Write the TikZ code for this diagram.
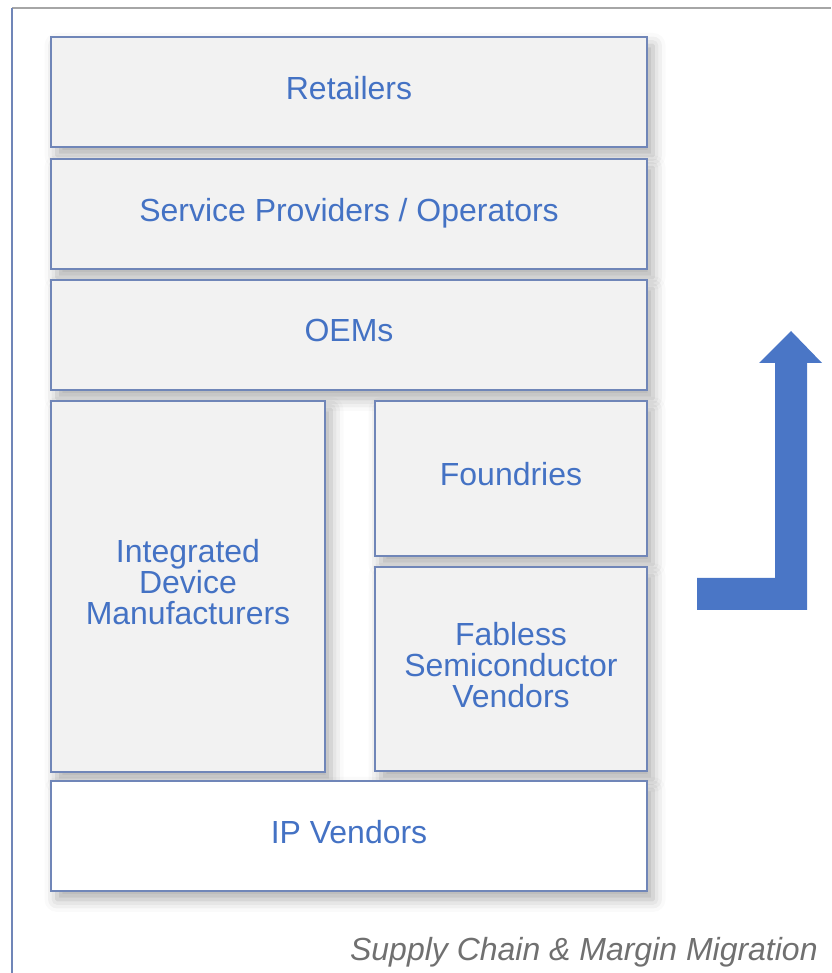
\documentclass[tikz,border=0pt]{standalone}
\usepackage{fontspec}
\setmainfont{Liberation Sans}
\usetikzlibrary{shadows.blur}

\definecolor{bleutexte}{RGB}{68,114,196}
\definecolor{bleufleche}{RGB}{74,118,198}
\definecolor{bordboite}{RGB}{112,134,184}
\definecolor{fondboite}{RGB}{242,242,242}
\definecolor{gristitre}{RGB}{112,112,112}

\begin{document}
\begin{tikzpicture}[
		maillon/.style={draw=bordboite, line width=0.6pt, fill=fondboite, inner sep=0pt,
			blur shadow={shadow xshift=0.12cm, shadow yshift=-0.17cm, shadow blur radius=0.25cm, shadow opacity=32},
			label={[texte]center:#1}},
		texte/.style={text=bleutexte, align=center, inner sep=0pt, text depth=0pt, yshift=0.09cm,
			font=\fontsize{18.2}{17.6}\selectfont},
	]
				% cadre
				\useasboundingbox (0, 0) rectangle (16.62, 19.46);
				\draw[black!35, line width=0.8pt] (0.24, 19.30) -- (16.62, 19.30);
				\draw[bordboite, line width=0.8pt] (0.24, 0) -- (0.24, 19.30);

				% chaine, du haut vers le bas
				\node[maillon={Retailers}, minimum width=11.92cm, minimum height=2.2cm] (retailers) at (6.98, 17.62) {};
				\node[maillon={Service Providers / Operators}, minimum width=11.92cm, minimum height=2.2cm] (operators) at (6.98, 15.18) {};
				\node[maillon={OEMs}, minimum width=11.92cm, minimum height=2.2cm] (oems) at (6.98, 12.76) {};

				% colonne gauche
				\node[maillon={Integrated\\Device\\Manufacturers}, minimum width=5.48cm, minimum height=7.42cm] (idm) at (3.76, 7.73) {};

				% colonne droite
				\node[maillon={Foundries}, minimum width=5.44cm, minimum height=3.1cm] (foundries) at (10.22, 9.89) {};
				\node[maillon={Fabless\\Semiconductor\\Vendors}, minimum width=5.44cm, minimum height=4.08cm] (fabless) at (10.22, 6.08) {};

				% socle
				\node[maillon={IP Vendors}, fill=white, minimum width=11.92cm, minimum height=2.2cm] (ip) at (6.98, 2.74) {};

				% fleche de migration
				\fill[bleufleche] (13.94, 7.26) -- (16.14, 7.26) -- (16.14, 12.20) -- (16.44, 12.20)
					-- (15.82, 12.84) -- (15.18, 12.20) -- (15.50, 12.20) -- (15.50, 7.90)
					-- (13.94, 7.90) -- cycle;

				% titre
				\node[anchor=base east, inner sep=0pt, text=gristitre, font=\fontsize{18.2}{20}\selectfont\itshape]
					(titre) at (16.36, 0.26) {Supply Chain \& Margin Migration};
			\end{tikzpicture}
\end{document}
